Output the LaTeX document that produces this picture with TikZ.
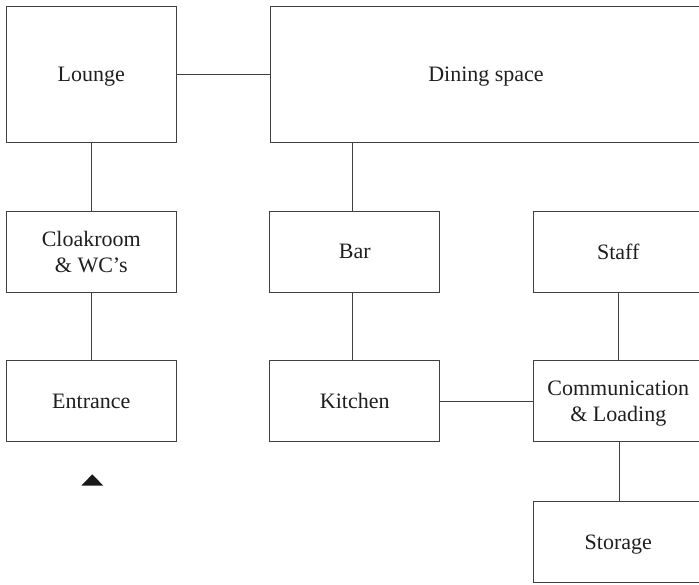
\documentclass[tikz,border=0pt]{standalone}
\usepackage{fontspec}
\setmainfont{Liberation Serif}
\begin{document}
\begin{tikzpicture}[x=1pt,y=-1pt,
  room/.style={draw=black!75, line width=1pt, rectangle, align=center, inner sep=0pt,
    text depth=0pt, font=\fontsize{22}{26}\selectfont, text=black!88},
  link/.style={draw=black!75, line width=1pt}]
\useasboundingbox (0,0) rectangle (699,584);
\clip (0,0) rectangle (699,584);
\node[room, minimum width=170, minimum height=136] (lounge) at (91.3,74.3) {Lounge};
\node[room, minimum width=431, minimum height=136] (dining) at (486,74.3) {Dining space};
\node[room, minimum width=170, minimum height=81] (cloak) at (91.3,251.5) {Cloakroom\\\& WC’s};
\node[room, minimum width=170, minimum height=81] (bar) at (354.8,251.5) {Bar};
\node[room, minimum width=170, minimum height=81] (staff) at (618.3,251.5) {Staff};
\node[room, minimum width=170, minimum height=81] (entrance) at (91.3,401.2) {Entrance};
\node[room, minimum width=170, minimum height=81] (kitchen) at (354.8,401.2) {Kitchen};
\node[room, minimum width=170, minimum height=81] (comm) at (618.3,401.2) {Communication\\\& Loading};
\node[room, minimum width=170, minimum height=80.7] (storage) at (618.3,542.3) {Storage};
\draw[link] (lounge) -- (dining);
\draw[link] (lounge) -- (cloak);
\draw[link] (cloak) -- (entrance);
\draw[link] ([xshift=-2pt]bar.north) -- ([xshift=-2pt]bar.north |- dining.south);
\draw[link] ([xshift=-2pt]bar.south) -- ([xshift=-2pt]kitchen.north);
\draw[link] (kitchen) -- (comm);
\draw[link] (staff) -- (comm);
\draw[link] ([xshift=1pt]comm.south) -- ([xshift=1pt]storage.north);
\coordinate (apex) at (92.3,474.3);
\fill[black!90] (apex) -- ++(11,11.4) -- ++(-22,0) -- cycle;
\end{tikzpicture}
\end{document}
